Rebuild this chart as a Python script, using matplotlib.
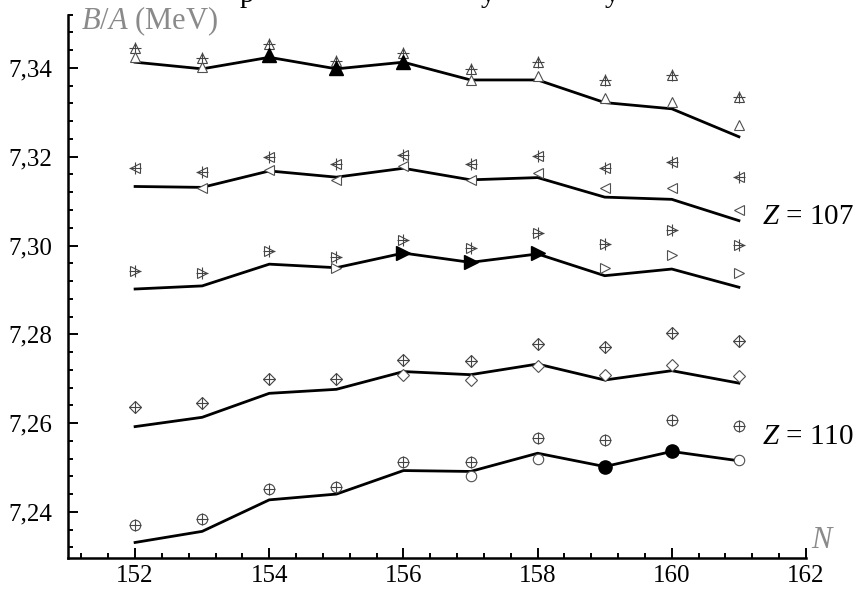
import numpy as np
import matplotlib
matplotlib.use("Agg")
import matplotlib.pyplot as plt
from matplotlib.ticker import MultipleLocator, FuncFormatter

plt.rcParams['font.family'] = 'Liberation Serif'
plt.rcParams['mathtext.fontset'] = 'custom'
plt.rcParams['mathtext.rm'] = 'Liberation Serif'
plt.rcParams['mathtext.it'] = 'Liberation Serif:italic'

nan = np.nan

# neutron number
N = [152, 153, 154, 155, 156, 157, 158, 159, 160, 161]

# series 1 (up triangles)
up_line = [7.3413, 7.3398, 7.3424, 7.3398, 7.3413, 7.3373, 7.3373, 7.3322, 7.3308, 7.3245]
up_exp = [7.3424, 7.3402, 7.3429, 7.3399, 7.3414, 7.3373, 7.3382, 7.3333, 7.3323, 7.3272]
up_cross = [7.3444, 7.3422, 7.3454, 7.3416, 7.3434, 7.3398, 7.3413, 7.3374, 7.3384, 7.3335]
up_filled = [154, 155, 156]

# series 2 (left triangles)
left_line = [7.3133, 7.3131, 7.3168, 7.3154, 7.3174, 7.3148, 7.3153, 7.3109, 7.3104, 7.3056]
left_exp = [nan, 7.3130, 7.3170, 7.3148, 7.3179, 7.3148, 7.3163, 7.3129, 7.3129, 7.3080]
left_cross = [7.3175, 7.3165, 7.3200, 7.3183, 7.3204, 7.3183, 7.3202, 7.3175, 7.3189, 7.3155]
left_filled = []

# series 3 (right triangles)
right_line = [7.2902, 7.2909, 7.2958, 7.2950, 7.2983, 7.2962, 7.2981, 7.2932, 7.2947, 7.2906]
right_exp = [nan, nan, nan, 7.2949, 7.2983, 7.2962, 7.2983, 7.2950, 7.2979, 7.2939]
right_cross = [7.2943, 7.2938, 7.2988, 7.2973, 7.3013, 7.2994, 7.3028, 7.3003, 7.3035, 7.3001]
right_filled = [156, 157, 158]

# series 4 (diamonds)
dia_line = [7.2592, 7.2613, 7.2667, 7.2676, 7.2716, 7.2709, 7.2733, 7.2697, 7.2718, 7.2690]
dia_exp = [nan, nan, nan, nan, 7.2709, 7.2697, 7.2729, 7.2709, 7.2730, 7.2707]
dia_cross = [7.2636, 7.2646, 7.2700, 7.2700, 7.2742, 7.2740, 7.2778, 7.2771, 7.2802, 7.2784]
dia_filled = []

# series 5 (circles)
circ_line = [7.2331, 7.2356, 7.2427, 7.2440, 7.2493, 7.2491, 7.2532, 7.2502, 7.2536, 7.2515]
circ_exp = [nan, nan, nan, nan, nan, 7.2481, 7.2519, 7.2502, 7.2536, 7.2517]
circ_cross = [7.2371, 7.2384, 7.2452, 7.2457, 7.2513, 7.2513, 7.2566, 7.2562, 7.2607, 7.2594]
circ_filled = [159, 160]

series = [
    (up_line, up_exp, up_cross, up_filled, '^'),
    (left_line, left_exp, left_cross, left_filled, '<'),
    (right_line, right_exp, right_cross, right_filled, '>'),
    (dia_line, dia_exp, dia_cross, dia_filled, 'D'),
    (circ_line, circ_exp, circ_cross, circ_filled, 'o'),
]

fig = plt.figure(figsize=(8.62, 5.92), dpi=100)
ax = fig.add_axes([68/862, 1 - 558/592, 738/862, (558 - 14.7)/592])

grey_open = '#505050'
grey_cross = '#454545'

for line, exp, cross, filled, mk in series:
    ms = 6.0 if mk == 'D' else 7.5
    ax.plot(N, line, '-', color='black', lw=2.0, zorder=2)
    # crossed markers (open marker + plus)
    ax.plot(N, cross, mk, ls='none', ms=ms, mfc='white', mec=grey_cross, mew=0.8, zorder=3)
    ax.plot(N, cross, '+', ls='none', ms=8.5 if mk != 'D' else 8.0, mec=grey_cross, mew=0.8, zorder=4)
    # open and filled markers
    n_arr = np.array(N)
    e_arr = np.array(exp)
    is_f = np.isin(n_arr, filled)
    ax.plot(n_arr[~is_f], e_arr[~is_f], mk, ls='none', ms=ms, mfc='white', mec=grey_open, mew=0.8, zorder=5)
    if is_f.any():
        ax.plot(n_arr[is_f], e_arr[is_f], mk, ls='none', ms=ms + 2, mfc='black', mec='black', zorder=6)

ax.set_xlim(151, 162)
ax.set_ylim(7.2296, 7.352)

ax.xaxis.set_major_locator(MultipleLocator(2))
ax.xaxis.set_minor_locator(MultipleLocator(0.4))
ax.yaxis.set_major_locator(MultipleLocator(0.02))
ax.yaxis.set_minor_locator(MultipleLocator(0.004))
ax.yaxis.set_major_formatter(FuncFormatter(lambda v, p: f"{v:.2f}".replace('.', ',')))

ax.tick_params(which='both', direction='in', width=1.4, labelsize=18)
ax.tick_params(which='major', length=7)
ax.tick_params(which='minor', length=3.5)
ax.tick_params(axis='y', pad=11)
ax.tick_params(axis='x', pad=5)

for s in ['top', 'right']:
    ax.spines[s].set_visible(False)
for s in ['left', 'bottom']:
    ax.spines[s].set_linewidth(1.8)

# axis titles inside the frame, grey
ax.text(151.2, 7.3505, r'$B/A$ (MeV)', color='#8a8a8a', fontsize=22, ha='left', va='center')
ax.text(1.023, 7.2335, r'$N$', color='#8a8a8a', fontsize=22, ha='center', va='center',
        transform=ax.get_yaxis_transform())

# nucleus labels
ax.text(161.34, 7.3064, r'$Z$ = 107', fontsize=21, ha='left', va='center')
ax.text(161.34, 7.2569, r'$Z$ = 110', fontsize=21, ha='left', va='center')

# caption line cut off at the top of the picture
for xp, ch in [(247, 'p'), (488, 'y'), (612, 'y')]:
    fig.text(xp/862, 1 - 1.5/592, ch, fontsize=21, ha='center', va='baseline')

fig.savefig('out.png', dpi=100)
